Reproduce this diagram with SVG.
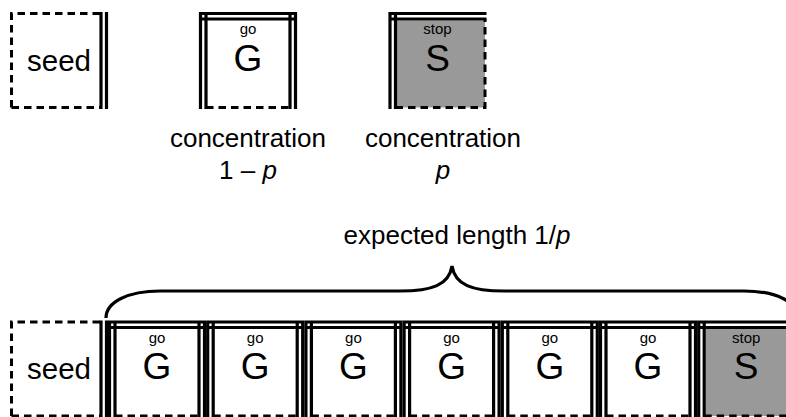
<svg xmlns="http://www.w3.org/2000/svg" width="786" height="417" viewBox="0 0 786 417">
<style>
text{font-family:"Liberation Sans",Arial,sans-serif;fill:#000;text-anchor:middle}
.seedt{font-size:29.5px}
.big{font-size:37px}
.sm{font-size:15px}
.cap{font-size:26px}
.dl{stroke:#000;stroke-width:3.2;fill:none}
.da{stroke:#000;stroke-width:3;fill:none;stroke-dasharray:7.5 5}
.gray{fill:#999999}
</style>
<defs>
<g id="seedTile">
<path class="da" d="M1.5,95.5 V1.5 H92 M1.5,95.5 H92"/>
<path class="dl" d="M91,0 V97 M96.5,0 V97"/>
<text class="seedt" x="49" y="58.5">seed</text>
</g>
<g id="goTile">
<path class="da" d="M7,95.5 H91"/>
<path class="dl" d="M1.5,0 V97 M7,0 V97 M91,0 V97 M96.5,0 V97 M0,1.5 H98 M0,7 H98"/>
<text class="sm" x="49" y="22">go</text>
<text class="big" x="49" y="58.5">G</text>
</g>
<g id="stopTile">
<rect class="gray" x="8.5" y="8.5" width="88" height="87"/>
<path class="da" d="M7,95.5 H96.5 V7"/>
<path class="dl" d="M1.5,0 V97 M7,0 V97 M0,1.5 H98 M0,7 H98"/>
<text class="sm" x="49" y="22">stop</text>
<text class="big" x="49" y="58.5">S</text>
</g>
</defs>
<rect width="786" height="417" fill="#fff"/>
<g id="seed-top"><use href="#seedTile" x="10" y="12"/></g>
<g id="go-top"><use href="#goTile" x="199" y="12"/></g>
<g id="stop-top"><use href="#stopTile" x="388.5" y="12"/></g>
<g id="labels">
<text class="cap" x="248" y="147">concentration</text>
<text class="cap" x="248" y="179">1 – <tspan font-style="italic">p</tspan></text>
<text class="cap" x="443" y="147">concentration</text>
<text class="cap" x="443" y="179" font-style="italic">p</text>
<text class="cap" x="457" y="244">expected length 1/<tspan font-style="italic">p</tspan></text>
</g>
<g id="connectors">
<path class="dl" d="M106,318 C106,302 128,291 160,291 L400,291 C432,291 449,285 452,266 C455,285 472,291 504,291 L744,291 C776,291 798,302 798,318"/>
</g>
<g id="seed-bottom"><use href="#seedTile" x="10" y="320.5"/></g>
<g id="go-1"><use href="#goTile" x="108" y="320.5"/></g>
<g id="go-2"><use href="#goTile" x="206.2" y="320.5"/></g>
<g id="go-3"><use href="#goTile" x="304.4" y="320.5"/></g>
<g id="go-4"><use href="#goTile" x="402.6" y="320.5"/></g>
<g id="go-5"><use href="#goTile" x="500.8" y="320.5"/></g>
<g id="go-6"><use href="#goTile" x="599" y="320.5"/></g>
<g id="stop-bottom"><use href="#stopTile" x="697.2" y="320.5"/></g>
</svg>
